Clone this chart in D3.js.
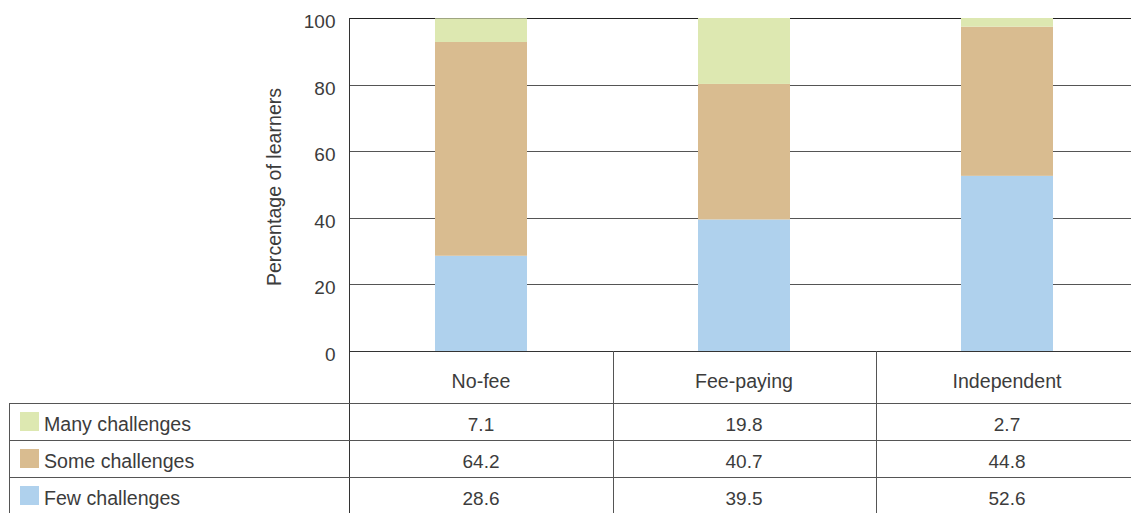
<!DOCTYPE html>
<html>
<head>
<meta charset="utf-8">
<script src="https://cdn.jsdelivr.net/npm/d3@7"></script>
<style>
  html, body { margin: 0; padding: 0; background: #fff; }
  svg { display: block; }
  text { font-family: "Liberation Sans", Arial, sans-serif; fill: #3c3c3c; }
</style>
</head>
<body>
<svg id="chart" width="1131" height="513"></svg>
<script>
// School types along the x axis
const categories = ["No-fee", "Fee-paying", "Independent"];
// Stacked series (bottom to top)
const fewChallenges  = [28.6, 39.5, 52.6];
const someChallenges = [64.2, 40.7, 44.8];
const manyChallenges = [7.1, 19.8, 2.7];
const yTicks = [0, 20, 40, 60, 80, 100];

const seriesNames = ["Many challenges", "Some challenges", "Few challenges"]; // table order
const seriesKeys  = ["many", "some", "few"];
const colors = { many: "#dde8b1", some: "#d9bc90", few: "#afd1ed" };

const rows = categories.map((c, i) => ({
  cat: c, few: fewChallenges[i], some: someChallenges[i], many: manyChallenges[i]
}));

const FONT = 19, LABEL_FONT = 19.6;
const svg = d3.select("#chart");
const left = 349.5, plotTop = 18, plotBottom = 351;
const bandW = 263;
const x = d3.scaleBand().domain(categories)
  .range([left, left + bandW * categories.length]).paddingInner(0).paddingOuter(0);
const y = d3.scaleLinear().domain([0, 100]).range([plotBottom, plotTop]);

// gridlines
svg.append("g").selectAll("line").data(yTicks.filter(d => d > 0)).join("line")
  .attr("x1", left).attr("x2", 1131)
  .attr("y1", d => Math.round(y(d)) + 0.5).attr("y2", d => Math.round(y(d)) + 0.5)
  .attr("stroke", d => d === 100 ? "#222" : "#555").attr("stroke-width", 1);

// stacked bars
const stack = d3.stack().keys(["few", "some", "many"]);
const layers = stack(rows);
const barW = 92;
svg.append("g").selectAll("g").data(layers).join("g")
  .attr("fill", d => colors[d.key])
  .selectAll("rect").data(d => d).join("rect")
  .attr("x", d => x(d.data.cat) + x.bandwidth() / 2 - barW / 2)
  .attr("width", barW)
  .attr("y", d => y(Math.min(100, d[1])))
  .attr("height", d => y(d[0]) - y(Math.min(100, d[1])));

// y axis
const yAxis = d3.axisLeft(y).tickValues(yTicks).tickSize(0).tickPadding(14);
const gy = svg.append("g").attr("transform", `translate(${left},0)`).call(yAxis);
gy.select(".domain").remove();
gy.selectAll("text").style("font-size", FONT + "px").attr("fill", "#3c3c3c")
  .style("font-family", "'Liberation Sans', Arial, sans-serif").attr("dy", "0.5em");

// axis line on the left
svg.append("line").attr("x1", left).attr("x2", left).attr("y1", plotTop).attr("y2", 513)
  .attr("stroke", "#333");

svg.append("text")
  .attr("transform", `translate(281,187) rotate(-90)`)
  .attr("text-anchor", "middle").style("font-size", LABEL_FONT + "px")
  .text("Percentage of learners");

// data table below the chart
const headerTop = plotBottom, headerBottom = 403, rowH = 37;
const g = svg.append("g");
// baseline / header top
g.append("line").attr("x1", left).attr("x2", 1131)
  .attr("y1", headerTop + 0.5).attr("y2", headerTop + 0.5).attr("stroke", "#333").attr("stroke-width", 1.2);
// column separators
categories.slice(1).forEach(c => {
  g.append("line").attr("x1", Math.round(x(c)) + 0.5).attr("x2", Math.round(x(c)) + 0.5)
    .attr("y1", headerTop).attr("y2", 513).attr("stroke", "#555");
});
// category headers
g.selectAll("text.hdr").data(categories).join("text").attr("class", "hdr")
  .attr("x", d => x(d) + x.bandwidth() / 2).attr("y", 388)
  .attr("text-anchor", "middle").style("font-size", LABEL_FONT + "px").text(d => d);

// row lines
const tableLeft = 9.5;
[0, 1, 2].forEach(i => {
  const yy = headerBottom + i * rowH + 0.5;
  g.append("line").attr("x1", tableLeft).attr("x2", 1131).attr("y1", yy).attr("y2", yy).attr("stroke", "#555");
});
g.append("line").attr("x1", tableLeft).attr("x2", tableLeft).attr("y1", headerBottom).attr("y2", 513).attr("stroke", "#555");

const seriesData = { many: manyChallenges, some: someChallenges, few: fewChallenges };
seriesKeys.forEach((k, i) => {
  const top = headerBottom + i * rowH;
  g.append("rect").attr("x", 20).attr("y", top + 9).attr("width", 19).attr("height", 19).attr("fill", colors[k]);
  g.append("text").attr("x", 44).attr("y", top + 28).style("font-size", LABEL_FONT + "px").text(seriesNames[i]);
  categories.forEach((c, j) => {
    g.append("text").attr("x", x(c) + x.bandwidth() / 2).attr("y", top + 28)
      .attr("text-anchor", "middle").style("font-size", FONT + "px")
      .text(seriesData[k][j].toFixed(1));
  });
});
</script>
</body>
</html>
